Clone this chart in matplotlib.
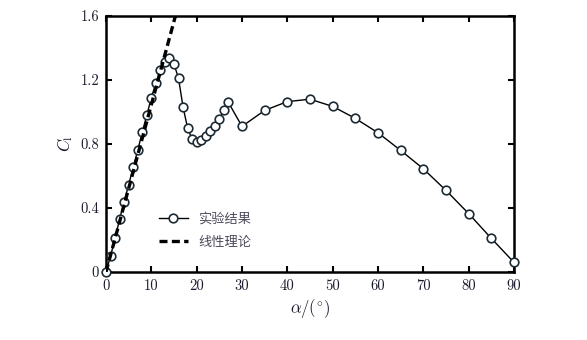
import matplotlib
matplotlib.use("Agg")
import matplotlib.pyplot as plt
import numpy as np

# Measured lift coefficient vs angle of attack
alpha_exp = [0, 1, 2, 3, 4, 5, 6, 7, 8, 9, 10, 11, 12, 13, 14, 15, 16, 17, 18, 19,
             20, 21, 22, 23, 24, 25, 26, 27, 30, 35, 40, 45, 50, 55, 60, 65, 70,
             75, 80, 85, 90]
cl_exp = [0.00, 0.10, 0.21, 0.33, 0.44, 0.545, 0.655, 0.76, 0.875, 0.98, 1.09,
          1.18, 1.26, 1.31, 1.34, 1.30, 1.21, 1.03, 0.90, 0.83, 0.81, 0.825,
          0.85, 0.88, 0.915, 0.955, 1.01, 1.06, 0.91, 1.01, 1.065, 1.08, 1.035,
          0.96, 0.87, 0.76, 0.645, 0.51, 0.365, 0.21, 0.06]

# Thin-airfoil (linear) theory
alpha_lin = [0, 16]
cl_slope = 0.1045
cl_lin = [cl_slope * a for a in alpha_lin]

x_ticks = [0, 10, 20, 30, 40, 50, 60, 70, 80, 90]
y_ticks = [0, 0.4, 0.8, 1.2, 1.6]
y_ticklabels = ["0", "0.4", "0.8", "1.2", "1.6"]
legend_labels = ["实验结果", "线性理论"]

plt.rcParams["mathtext.fontset"] = "cm"
plt.rcParams["font.family"] = ["cmr10", "Noto Sans CJK SC", "DejaVu Sans"]
plt.rcParams["axes.unicode_minus"] = False

fig = plt.figure(figsize=(5.87, 3.40), dpi=100)
ax = fig.add_axes([106 / 587, 68 / 340, 408 / 587, 256 / 340])

ax.plot(alpha_exp, cl_exp, color="black", linewidth=1.0, marker="o",
        markersize=6.2, markerfacecolor="white", markeredgecolor="#1c2a33",
        markeredgewidth=1.2, label=legend_labels[0], zorder=3, clip_on=False)
ax.plot(alpha_lin, cl_lin, color="black", linewidth=2.4, linestyle=(0, (2.4, 1.3)),
        label=legend_labels[1], zorder=4)

ax.set_xlim(0, 90)
ax.set_ylim(0, 1.6)
ax.set_xticks(x_ticks)
ax.set_xticklabels([str(v) for v in x_ticks])
ax.set_yticks(y_ticks)
ax.set_yticklabels(y_ticklabels)

for s in ax.spines.values():
    s.set_linewidth(1.8)
ax.tick_params(direction="in", length=4, width=1.5, top=True, right=True,
               labelsize=10.5, labelcolor="#1a1a2e", pad=5)

ax.set_xlabel(r"$\alpha/(^{\circ})$", fontsize=12, color="#1a1a2e", labelpad=3)
ax.set_ylabel(r"$C_\mathrm{l}$", fontsize=12, color="#1a1a2e", labelpad=4)

leg = ax.legend(loc="lower left", bbox_to_anchor=(0.10, 0.045), frameon=False,
                prop={"family": ["Noto Sans CJK SC"], "size": 9.5},
                handlelength=2.2, handletextpad=0.8, labelspacing=0.75)
for t in leg.get_texts():
    t.set_color("#4a4a5a")

fig.savefig("out.png", dpi=100, facecolor="white")
